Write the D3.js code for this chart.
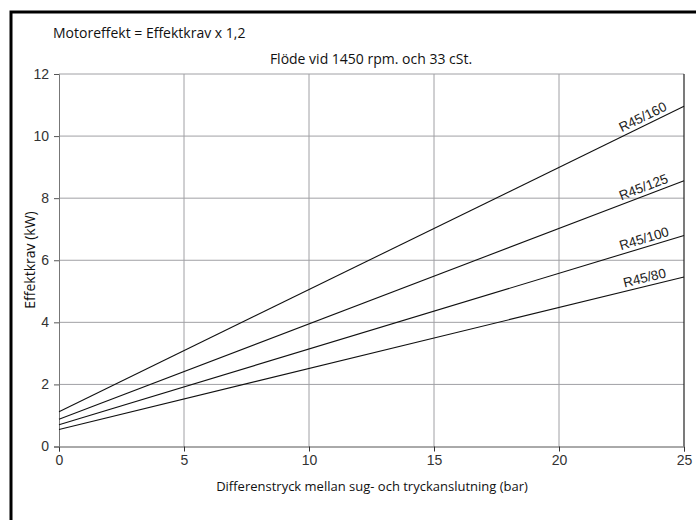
<!DOCTYPE html>
<meta charset="utf-8">
<head>
<style>
  html, body { margin: 0; background: #fff; overflow: hidden; }
  svg { display: block; }
  .tick text { font-family: "Liberation Sans", Arial, sans-serif; font-size: 14px; fill: #333; }
  .lbl { font-family: "Open Sans", "Noto Sans", sans-serif; font-size: 14px; fill: #111; }
</style>
</head>
<body>
<div id="chart"></div>
<script src="https://d3js.org/d3.v7.min.js"></script>
<script>
// serienamn och värden vid 0 och 25 bar
var models = ["R45/80", "R45/100", "R45/125", "R45/160"];
var pressure = [0, 25];
var power80 = [0.55, 5.46];
var power100 = [0.70, 6.8];
var power125 = [0.88, 8.56];
var power160 = [1.12, 10.96];
var xTicks = [0, 5, 10, 15, 20, 25];
var yTicks = [0, 2, 4, 6, 8, 10, 12];

var series = [power80, power100, power125, power160];

var width = 696, height = 520;
var svg = d3.select("#chart").append("svg")
  .attr("width", width)
  .attr("height", height);

// ram (bara övre och vänstra kanten syns)
svg.append("path")
  .attr("d", "M11," + height + "V12H" + width)
  .attr("fill", "none")
  .attr("stroke", "#000")
  .attr("stroke-width", 3);

var x = d3.scaleLinear().domain([0, 25]).range([59, 684]);
var y = d3.scaleLinear().domain([0, 12]).range([446.5, 74]);

// rutnät
svg.append("g").selectAll("line")
  .data(xTicks.slice(1, -1))
  .join("line")
  .attr("x1", d => x(d)).attr("x2", d => x(d))
  .attr("y1", y(0)).attr("y2", y(12))
  .attr("stroke", "#a0a0a4").attr("stroke-width", 1);
svg.append("g").selectAll("line")
  .data(yTicks.slice(1))
  .join("line")
  .attr("x1", x(0)).attr("x2", x(25))
  .attr("y1", d => y(d)).attr("y2", d => y(d))
  .attr("stroke", "#a0a0a4").attr("stroke-width", 1);

// högerkant
svg.append("line")
  .attr("x1", x(25)).attr("x2", x(25))
  .attr("y1", y(12)).attr("y2", y(0))
  .attr("stroke", "#222").attr("stroke-width", 1.2);

// axlar
var xAxis = svg.append("g")
  .attr("transform", "translate(0," + y(0) + ")")
  .call(d3.axisBottom(x).tickValues(xTicks).tickSize(5).tickPadding(4));
xAxis.select(".domain").attr("stroke", "#555");
xAxis.selectAll(".tick line").attr("stroke", "#333");

var yAxis = svg.append("g")
  .attr("transform", "translate(" + x(0) + ",0)")
  .call(d3.axisLeft(y).tickValues(yTicks).tickSize(5).tickPadding(5));
yAxis.select(".domain").attr("stroke", "#777");
yAxis.selectAll(".tick line").attr("stroke", "#555");

// linjer
var line = d3.line()
  .x((d, i) => x(pressure[i]))
  .y(d => y(d));
svg.append("g").selectAll("path")
  .data(series)
  .join("path")
  .attr("d", d => line(d))
  .attr("fill", "none")
  .attr("stroke", "#111")
  .attr("stroke-width", 1.1);

// etiketter längs linjerna
var labelX = 23.5;
series.forEach(function (d, i) {
  var slope = (d[1] - d[0]) / (pressure[1] - pressure[0]);
  var v = d[0] + slope * labelX;
  var px = x(labelX), py = y(v);
  var angle = Math.atan2(y(d[1]) - y(d[0]), x(pressure[1]) - x(pressure[0])) * 180 / Math.PI;
  svg.append("text")
    .attr("transform", "translate(" + px + "," + py + ") rotate(" + angle + ")")
    .attr("dy", -4)
    .attr("text-anchor", "middle")
    .attr("font-family", "Liberation Sans, Arial, sans-serif")
    .attr("font-size", 13.5)
    .attr("fill", "#222")
    .text(models[i]);
});

// texter
svg.append("text").attr("class", "lbl")
  .attr("x", 53).attr("y", 38)
  .text("Motoreffekt = Effektkrav x 1,2");
svg.append("text").attr("class", "lbl")
  .attr("x", 371).attr("y", 64)
  .attr("text-anchor", "middle")
  .text("Flöde vid 1450 rpm. och 33 cSt.");
svg.append("text").attr("class", "lbl")
  .attr("x", 372).attr("y", 491)
  .attr("text-anchor", "middle")
  .style("font-size", "13px")
  .text("Differenstryck mellan sug- och tryckanslutning (bar)");
svg.append("text").attr("class", "lbl")
  .attr("transform", "translate(35,260) rotate(-90)")
  .attr("text-anchor", "middle")
  .text("Effektkrav (kW)");
</script>
</body>
